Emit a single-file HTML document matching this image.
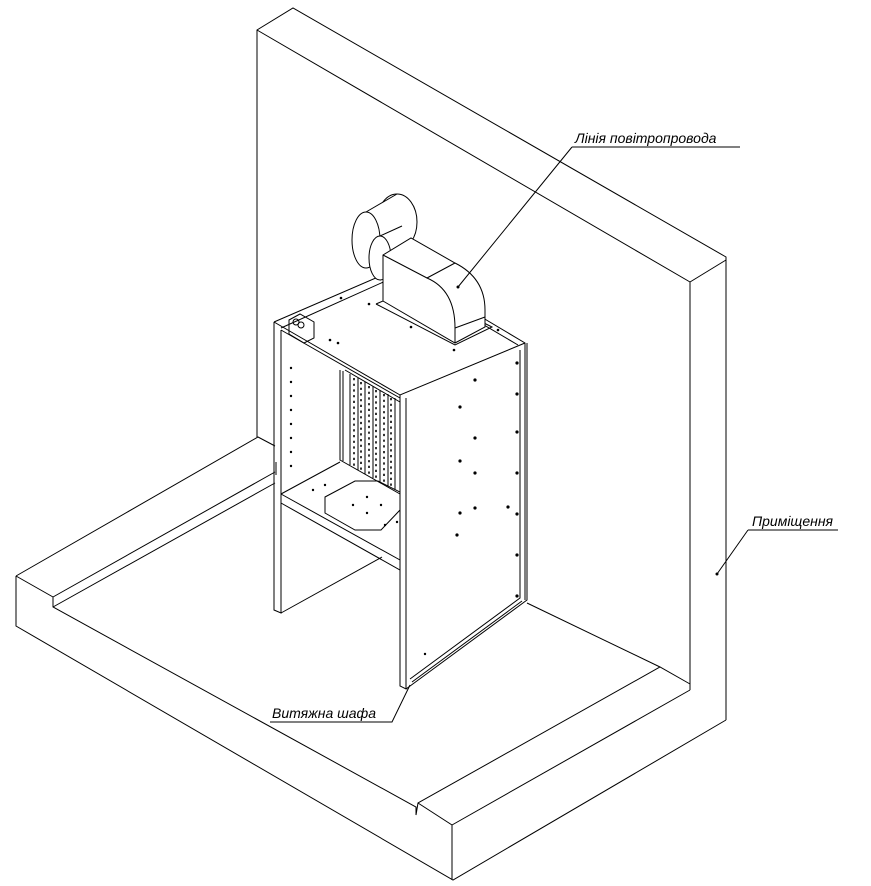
<!DOCTYPE html>
<html><head><meta charset="utf-8"><style>
html,body{margin:0;padding:0;background:#fff}
svg{display:block}
text{font-family:"Liberation Sans","DejaVu Sans",sans-serif;font-style:italic;font-size:14px;fill:#000}
</style></head><body>
<svg width="871" height="886" viewBox="0 0 871 886" xmlns="http://www.w3.org/2000/svg">
<g fill="none" stroke="#000" stroke-width="1">
<!-- wall -->
<path d="M257,437 L257,30 L293,8 L726,257 L726,720"/>
<path d="M257,30 L690,282 L690,690"/>
<path d="M690,282 L726,260"/>
<!-- floor slab -->
<path d="M16,576 L258,437 L275,446"/>
<path d="M16,576 L16,626 L453,880 L726,720"/>
<path d="M16,576 L53,597 L53,607 L416,807 L416,815 L418,803 L660,667 L690,684"/>
<path d="M53,597 L275,472"/>
<path d="M53,607 L275,483"/>
<path d="M418,803 L452,825 L452,880"/>
<path d="M452,825 L690,690"/>
<path d="M527,603 L660,667"/>
<!-- cabinet left panel -->
<path d="M274,322 L274,610 L281,613 L281,330"/>
<path d="M281,613 L382,557"/>
<path d="M274,322 L399,268 L525,343 L525,600"/>
<path d="M281,330 L400,398"/>
<path d="M274,322 L400,395 L525,343"/>
<path d="M281,328 L399,275 L518,345"/>
<!-- right panel -->
<path d="M400,395 L400,686 L406,689 L406,398"/>
<path d="M406,689 L527,600 L527,343"/>
<path d="M410,679 L520,598 L520,350"/>
<path d="M412,682 L522,601"/>
<!-- interior -->
<path d="M340,370 L340,460 L400,494"/>
<path d="M343,371 L343,461"/>
<path d="M345,370 L400,402"/>
<path d="M281,494 L340,462"/>
<path d="M281,494 L400,560 L400,570 L281,503"/>
<path d="M350,374 L350,465 M358,378 L358,470 M365,382 L365,474 M373,386 L373,478 M380,390 L380,482 M388,394 L388,486 M395,398 L395,490"/>
<path d="M325,497 L355,481 L378,481 L400,492 L400,510 L381,530 L355,530 L325,513 Z"/>
<!-- duct base plate -->
<path d="M376,304 L455,345 L492,327 L474,318"/>
<path d="M376,304 L383,301"/>
</g>
<!-- fan cylinders (back to front, white fill) -->
<g fill="#fff" stroke="#000" stroke-width="1">
<ellipse cx="397" cy="222" rx="20" ry="28"/>
<path d="M366,212 L397,194 L397,250 L366,268 Z" stroke="none"/>
<path d="M366,212 L397,194 M366,268 L397,250" fill="none"/>
<ellipse cx="366" cy="240" rx="14" ry="28"/>
<path d="M380,236 L402,226 L410,270 L380,280 Z" stroke="none"/>
<path d="M380,236 L402,226" fill="none"/>
<ellipse cx="380" cy="258" rx="11" ry="22"/>
<!-- duct box -->
<path d="M383,301 L383,255 L411,238 L455,263 Q485,278 485,310 L485,327 L455,343 Z"/>
<path d="M383,255 L427,278 L455,263" fill="none"/>
<path d="M427,278 Q455,290 455,328 L455,343" fill="none"/>
<path d="M455,328 L485,317" fill="none"/>
</g>
<g fill="none" stroke="#000" stroke-width="1">
<!-- control box -->
<path d="M289,320 L300,314 L314,322 L314,338 L304,343 L289,334 Z"/>
<circle cx="296" cy="322" r="3"/><circle cx="301" cy="325" r="3"/>
<path d="M276,462 L276,475"/>
<!-- leaders -->
<path d="M572,147 L740,147 M572,147 L458,287"/>
<path d="M748,530 L838,530 M748,530 L717,574"/>
<path d="M270,722 L392,722 L410,685"/>
</g>
<g fill="none" stroke="#000" stroke-width="1.6" stroke-dasharray="2.2,3.5">
<path d="M354,378 L354,468 M361,382 L361,472 M369,386 L369,476 M376,390 L376,480 M384,394 L384,484 M391,398 L391,488"/>
</g>
<g fill="#000">
<circle cx="458" cy="287" r="1.5"/><circle cx="717" cy="574" r="1.5"/>
<circle cx="341" cy="298" r="1.3"/><circle cx="369" cy="304" r="1.3"/><circle cx="411" cy="327" r="1.3"/><circle cx="454" cy="350" r="1.3"/>
<circle cx="338" cy="343" r="1.3"/><circle cx="330" cy="340" r="1.3"/><circle cx="498" cy="330" r="1.3"/>
<circle cx="291" cy="368" r="1.2"/><circle cx="291" cy="382" r="1.2"/><circle cx="291" cy="396" r="1.2"/><circle cx="291" cy="410" r="1.2"/><circle cx="291" cy="424" r="1.2"/><circle cx="291" cy="438" r="1.2"/><circle cx="291" cy="452" r="1.2"/><circle cx="291" cy="466" r="1.2"/>
<circle cx="475" cy="380" r="1.6"/><circle cx="475" cy="438" r="1.6"/><circle cx="475" cy="473" r="1.6"/><circle cx="460" cy="461" r="1.6"/><circle cx="460" cy="407" r="1.6"/><circle cx="475" cy="508" r="1.6"/><circle cx="460" cy="513" r="1.6"/><circle cx="457" cy="535" r="1.6"/><circle cx="508" cy="507" r="1.6"/>
<circle cx="517" cy="363" r="1.6"/><circle cx="517" cy="394" r="1.6"/><circle cx="517" cy="432" r="1.6"/><circle cx="517" cy="473" r="1.6"/><circle cx="517" cy="514" r="1.6"/><circle cx="517" cy="555" r="1.6"/><circle cx="517" cy="596" r="1.6"/>
<circle cx="313" cy="490" r="1.2"/><circle cx="325" cy="485" r="1.2"/><circle cx="367" cy="497" r="1.2"/><circle cx="353" cy="505" r="1.2"/><circle cx="381" cy="505" r="1.2"/><circle cx="367" cy="513" r="1.2"/><circle cx="385" cy="525" r="1.2"/><circle cx="397" cy="522" r="1.2"/>
<circle cx="425" cy="654" r="1.2"/>
</g>
<text x="575" y="143">Лінія повітропровода</text>
<text x="752" y="526">Приміщення</text>
<text x="272" y="718">Витяжна шафа</text>
</svg>
</body></html>
